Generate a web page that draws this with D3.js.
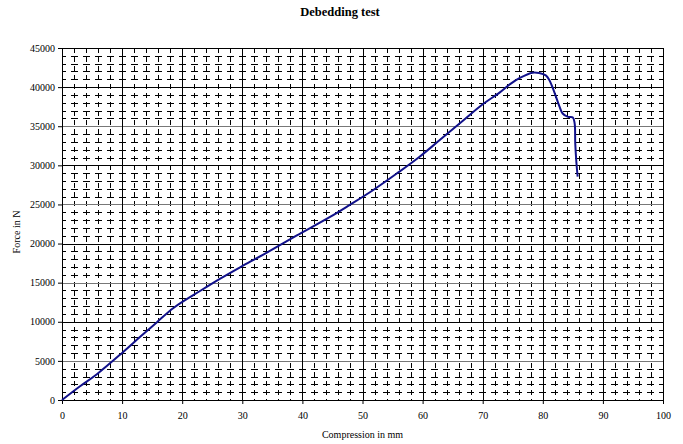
<!DOCTYPE html>
<html>
<head>
<meta charset="utf-8">
<script src="https://cdnjs.cloudflare.com/ajax/libs/d3/7.8.5/d3.min.js"></script>
<style>
  body { margin: 0; background: #fff; }
  text { font-family: "Liberation Serif", "DejaVu Serif", serif; fill: #000; }
</style>
</head>
<body>
<div id="chart"></div>
<script>
// values
var compression = [0, 3.0, 5.8, 10, 13.1, 15.8, 18.6, 23.1, 26.4, 29.7, 33.5, 39, 44.6, 47.9,
  51.8, 55.7, 59.5, 62.8, 66.7, 70, 72.8, 74.5, 76.1, 78.3, 79.4, 80.5, 81.1, 81.9, 82.8,
  83.3, 84.2, 85.0, 85.3, 85.4, 85.6, 85.8];
var force = [0, 1760, 3300, 6020, 8140, 9950, 11800, 14000, 15550, 17000, 18600, 21000, 23400,
  24950, 26850, 28950, 31100, 33200, 35700, 37800, 39300, 40350, 41150, 41850, 41800, 41500,
  40880, 39390, 37470, 36630, 36200, 36120, 35360, 32810, 30260, 28550];
var xTicks = [0, 10, 20, 30, 40, 50, 60, 70, 80, 90, 100];
var yTicks = [0, 5000, 10000, 15000, 20000, 25000, 30000, 35000, 40000, 45000];

var W = 683, H = 444;
var margin = { top: 48, right: 20, bottom: 44, left: 62 };
var width = 663 - margin.left,
    height = 400 - margin.top;

var svg = d3.select("#chart").append("svg")
    .attr("width", W)
    .attr("height", H);

var g = svg.append("g")
    .attr("transform", "translate(" + margin.left + "," + margin.top + ")");

var x = d3.scaleLinear().domain([0, 100]).range([0, width]);
var y = d3.scaleLinear().domain([0, 45000]).range([height, 0]);

//minor grid, dashed
g.selectAll(".minor-y")
    .data(d3.range(1000, 45000, 1000).filter(function (d) { return d % 5000 != 0; }))
    .enter().append("line")
    .attr("x1", 0).attr("x2", width)
    .attr("y1", function (d) { return Math.round(y(d)) + 0.5; })
    .attr("y2", function (d) { return Math.round(y(d)) + 0.5; })
    .attr("stroke", "#000")
    .attr("stroke-dasharray", "7,5")
    .attr("stroke-dashoffset", 3);

g.selectAll(".minor-x")
    .data(d3.range(2, 100, 2).filter(function (d) { return d % 10 != 0; }))
    .enter().append("line")
    .attr("y1", 0).attr("y2", height)
    .attr("x1", function (d) { return Math.round(x(d)) + 0.5; })
    .attr("x2", function (d) { return Math.round(x(d)) + 0.5; })
    .attr("stroke", "#000")
    .attr("stroke-dasharray", "5,4");

//major grid
g.selectAll(".major-y")
    .data(yTicks)
    .enter().append("line")
    .attr("x1", 0).attr("x2", width)
    .attr("y1", function (d) { return Math.round(y(d)) + 0.5; })
    .attr("y2", function (d) { return Math.round(y(d)) + 0.5; })
    .attr("stroke", function (d) { return d % 10000 == 0 ? "#000" : "#777"; });

g.selectAll(".major-x")
    .data(xTicks)
    .enter().append("line")
    .attr("y1", 0).attr("y2", height)
    .attr("x1", function (d) { return Math.round(x(d)) + 0.5; })
    .attr("x2", function (d) { return Math.round(x(d)) + 0.5; })
    .attr("stroke", "#000");

//axes
var xAxis = d3.axisBottom(x).tickValues(xTicks).tickSize(4).tickPadding(8);
var yAxis = d3.axisLeft(y).tickValues(yTicks).tickSize(4).tickPadding(3)
    .tickFormat(d3.format("d"));

g.append("g")
    .attr("transform", "translate(0," + height + ")")
    .call(xAxis)
    .call(function (s) {
        s.select(".domain").remove();
        s.selectAll("text").style("font-family", "Liberation Serif").style("font-size", "10px");
    });

g.append("g")
    .call(yAxis)
    .call(function (s) {
        s.select(".domain").remove();
        s.selectAll("text").style("font-family", "Liberation Serif").style("font-size", "10px");
    });

//frame
g.append("rect")
    .attr("x", 0.5).attr("y", 0.5)
    .attr("width", width).attr("height", height)
    .attr("fill", "none")
    .attr("stroke", "#000");

//the curve
var line = d3.line()
    .x(function (d) { return x(d[0]); })
    .y(function (d) { return y(d[1]); })
    .curve(d3.curveCatmullRom.alpha(0.5));

g.append("path")
    .datum(d3.zip(compression, force))
    .attr("d", line)
    .attr("fill", "none")
    .attr("stroke", "#10108a")
    .attr("stroke-width", 2);

//titles
svg.append("text")
    .attr("x", 340).attr("y", 16)
    .attr("text-anchor", "middle")
    .style("font-size", "12.5px")
    .style("font-weight", "bold")
    .text("Debedding test");

svg.append("text")
    .attr("x", margin.left + width / 2).attr("y", 438)
    .attr("text-anchor", "middle")
    .style("font-size", "10px")
    .text("Compression in mm");

svg.append("text")
    .attr("transform", "translate(20,232) rotate(-90)")
    .attr("text-anchor", "middle")
    .style("font-size", "10px")
    .text("Force in N");
</script>
</body>
</html>
